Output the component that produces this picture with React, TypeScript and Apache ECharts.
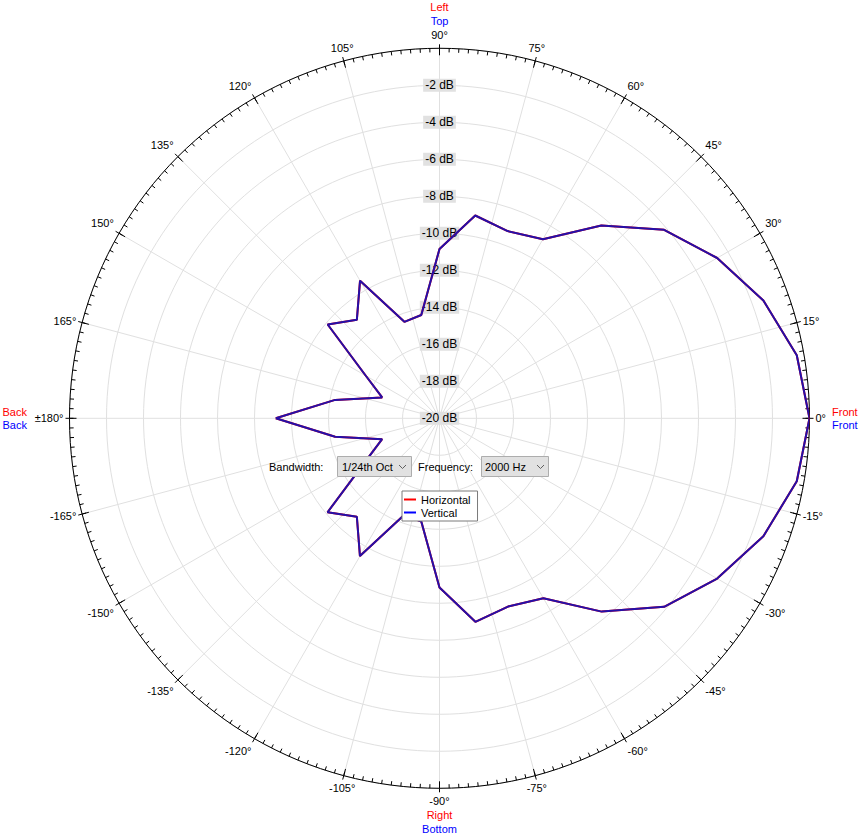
import React, { useEffect, useRef } from "react";
import * as echarts from "echarts";

// Angles in degrees (0 = Front, 90 = Top/Left, -90 = Bottom/Right)
const angles = [
  -180, -170, -160, -150, -140, -130, -120, -110, -100, -90, -80, -70, -60, -50, -40, -30, -20, -10,
  0, 10, 20, 30, 40, 50, 60, 70, 80, 90, 100, 110, 120, 130, 140, 150, 160, 170, 180,
];

// Level in dB at each angle
const verticalDb = [
  -11.15, -14.27, -16.7, -15.4, -12.1, -13.05, -11.4, -14.45, -14.33, -10.85, -8.83, -9.17, -8.77,
  -6.36, -4.15, -2.67, -1.37, -0.39, 0, -0.39, -1.37, -2.67, -4.15, -6.39, -8.82, -9.23, -8.87,
  -10.85, -14.33, -14.45, -11.41, -13.05, -12.11, -15.4, -16.7, -14.27, -11.15,
];
const horizontalDb = [
  -11.15, -14.27, -16.7, -15.4, -12.1, -13.05, -11.4, -14.45, -14.33, -10.85, -8.83, -9.17, -8.77,
  -6.36, -4.15, -2.67, -1.37, -0.39, 0, -0.39, -1.37, -2.67, -4.15, -6.39, -8.82, -9.23, -8.87,
  -10.85, -14.33, -14.45, -11.41, -13.05, -12.11, -15.4, -16.7, -14.27, -11.15,
];

const seriesNames = ["Horizontal", "Vertical"];
const dbMin = -20;
const dbMax = 0;
const dbStep = 2;
const angleStep = 15;
const minorTickStep = 1.5;
const bandwidthLabel = "Bandwidth:";
const bandwidthValue = "1/24th Oct";
const frequencyLabel = "Frequency:";
const frequencyValue = "2000 Hz";

const FONT = "Liberation Sans";
const CENTER: [number, number] = [439.5, 418.3];
const RADIUS = 370;

export default function App() {
  const ref = useRef<HTMLDivElement>(null);

  useEffect(() => {
    document.body.style.margin = "0";
    if (!ref.current) return;
    const chart = echarts.init(ref.current, null, { renderer: "svg" });

    const hData = angles.map((a, i) => [horizontalDb[i], a]);
    const vData = angles.map((a, i) => [verticalDb[i], a]);

    const polarBase = { center: CENTER, radius: RADIUS };
    const hiddenRadius = (idx: number) => ({
      polarIndex: idx,
      type: "value",
      min: dbMin,
      max: dbMax,
      axisLine: { show: false },
      axisTick: { show: false },
      axisLabel: { show: false },
      splitLine: { show: false },
    });
    const tickAngle = (idx: number, interval: number, len: number, inside: boolean) => ({
      polarIndex: idx,
      type: "value",
      min: -180,
      max: 180,
      interval,
      startAngle: 180,
      clockwise: false,
      axisLine: { show: false },
      axisTick: { show: true, inside, length: len, lineStyle: { color: "#000", width: 1 } },
      axisLabel: { show: false },
      splitLine: { show: false },
    });

    const txt = (text: string, x: number, y: number, fill = "#000", align = "left") => ({
      type: "text",
      x,
      y,
      z: 100,
      style: {
        text,
        fill,
        font: `11px "${FONT}"`,
        align,
        verticalAlign: "middle",
        textAlign: align,
        textVerticalAlign: "middle",
      },
    });

    const option: any = {
      animation: false,
      textStyle: { fontFamily: FONT },
      polar: [polarBase, polarBase, polarBase, polarBase],
      angleAxis: [
        {
          polarIndex: 0,
          type: "value",
          min: -180,
          max: 180,
          interval: angleStep,
          startAngle: 180,
          clockwise: false,
          axisLine: { show: true, lineStyle: { color: "#000", width: 1 } },
          axisTick: { show: true, inside: false, length: 4, lineStyle: { color: "#000" } },
          axisLabel: {
            show: true,
            margin: 6,
            fontSize: 11,
            color: "#000",
            fontFamily: FONT,
            lineHeight: 14,
            formatter: (v: number) => {
              if (v === 90) return "{r|Left}\n{b|Top}\n{k|90°}";
              if (v === -90) return "{k|-90°}\n{r|Right}\n{b|Bottom}";
              if (v === -180 || v === 180) return "{k|±180°}";
              return "{k|" + v + "°}";
            },
            rich: {
              k: { color: "#000", fontSize: 11, fontFamily: FONT, lineHeight: 14 },
              r: { color: "#ff0000", fontSize: 11, fontFamily: FONT, lineHeight: 14 },
              b: { color: "#0000ff", fontSize: 11, fontFamily: FONT, lineHeight: 14 },
            },
          },
          splitLine: { show: true, lineStyle: { color: "#e0e0e0", width: 1 } },
        },
        tickAngle(1, minorTickStep, 4, true),
        {
          polarIndex: 2,
          type: "value",
          min: 0,
          max: 360,
          startAngle: 90,
          show: false,
        },
        tickAngle(3, angleStep, 7, true),
      ],
      radiusAxis: [
        {
          polarIndex: 0,
          type: "value",
          min: dbMin,
          max: dbMax,
          interval: dbStep,
          axisLine: { show: false },
          axisTick: { show: false },
          axisLabel: { show: false },
          splitLine: { show: true, lineStyle: { color: "#e0e0e0", width: 1 } },
        },
        hiddenRadius(1),
        {
          polarIndex: 2,
          type: "value",
          min: dbMin,
          max: dbMax,
          interval: dbStep,
          axisLine: { show: false },
          axisTick: { show: false },
          splitLine: { show: false },
          axisLabel: {
            show: true,
            showMaxLabel: false,
            margin: 0,
            align: "center",
            verticalAlign: "middle",
            fontSize: 12,
            fontFamily: FONT,
            color: "#000",
            backgroundColor: "#e1e1e1",
            padding: [1, 2, 0, 2],
            formatter: (v: number) => (v === 0 ? "" : `${v} dB`),
          },
        },
        hiddenRadius(3),
      ],
      legend: {
        left: 402,
        top: 491,
        orient: "vertical",
        padding: [2, 7, 2, 2],
        itemGap: 0,
        itemWidth: 12,
        itemHeight: 2,
        icon: "rect",
        backgroundColor: "#fff",
        borderColor: "#7a7a7a",
        borderWidth: 1,
        borderRadius: 0,
        z: 50,
        selectedMode: false,
        textStyle: { fontSize: 11, fontFamily: FONT, color: "#000", lineHeight: 13 },
        data: [
          { name: seriesNames[0], itemStyle: { color: "#ff0000" } },
          { name: seriesNames[1], itemStyle: { color: "#0000ff" } },
        ],
      },
      series: [
        {
          name: seriesNames[0],
          type: "line",
          coordinateSystem: "polar",
          polarIndex: 0,
          symbol: "none",
          itemStyle: { color: "#ff0000" },
          lineStyle: { color: "#ff0000", width: 2 },
          data: hData,
        },
        {
          name: seriesNames[1],
          type: "line",
          coordinateSystem: "polar",
          polarIndex: 0,
          symbol: "none",
          itemStyle: { color: "#0000ff" },
          lineStyle: { color: "#2410a8", width: 2 },
          data: vData,
        },
      ],
      graphic: [
        txt("Front", 832, 411.5, "#ff0000"),
        txt("Front", 832, 425, "#0000ff"),
        txt("Back", 2.5, 411.5, "#ff0000"),
        txt("Back", 2.5, 425, "#0000ff"),
        txt(bandwidthLabel, 269, 467),
        {
          type: "rect",
          z: 99,
          shape: { x: 337.5, y: 456.5, width: 74, height: 20 },
          style: { fill: "#e1e1e1", stroke: "#adadad", lineWidth: 1 },
        },
        txt(bandwidthValue, 342, 467),
        {
          type: "polyline",
          z: 100,
          shape: { points: [[399, 465], [402.5, 468.5], [406, 465]] },
          style: { fill: "none", stroke: "#606060", lineWidth: 1 },
        },
        txt(frequencyLabel, 418, 467),
        {
          type: "rect",
          z: 99,
          shape: { x: 481.5, y: 456.5, width: 67, height: 20 },
          style: { fill: "#e1e1e1", stroke: "#adadad", lineWidth: 1 },
        },
        txt(frequencyValue, 485, 467),
        {
          type: "polyline",
          z: 100,
          shape: { points: [[537, 465], [540.5, 468.5], [544, 465]] },
          style: { fill: "none", stroke: "#606060", lineWidth: 1 },
        },
      ],
    };

    chart.setOption(option);
    return () => chart.dispose();
  }, []);

  return (
    <div
      ref={ref}
      style={{ position: "absolute", left: 0, top: 0, width: 864, height: 839, background: "#fff" }}
    />
  );
}
